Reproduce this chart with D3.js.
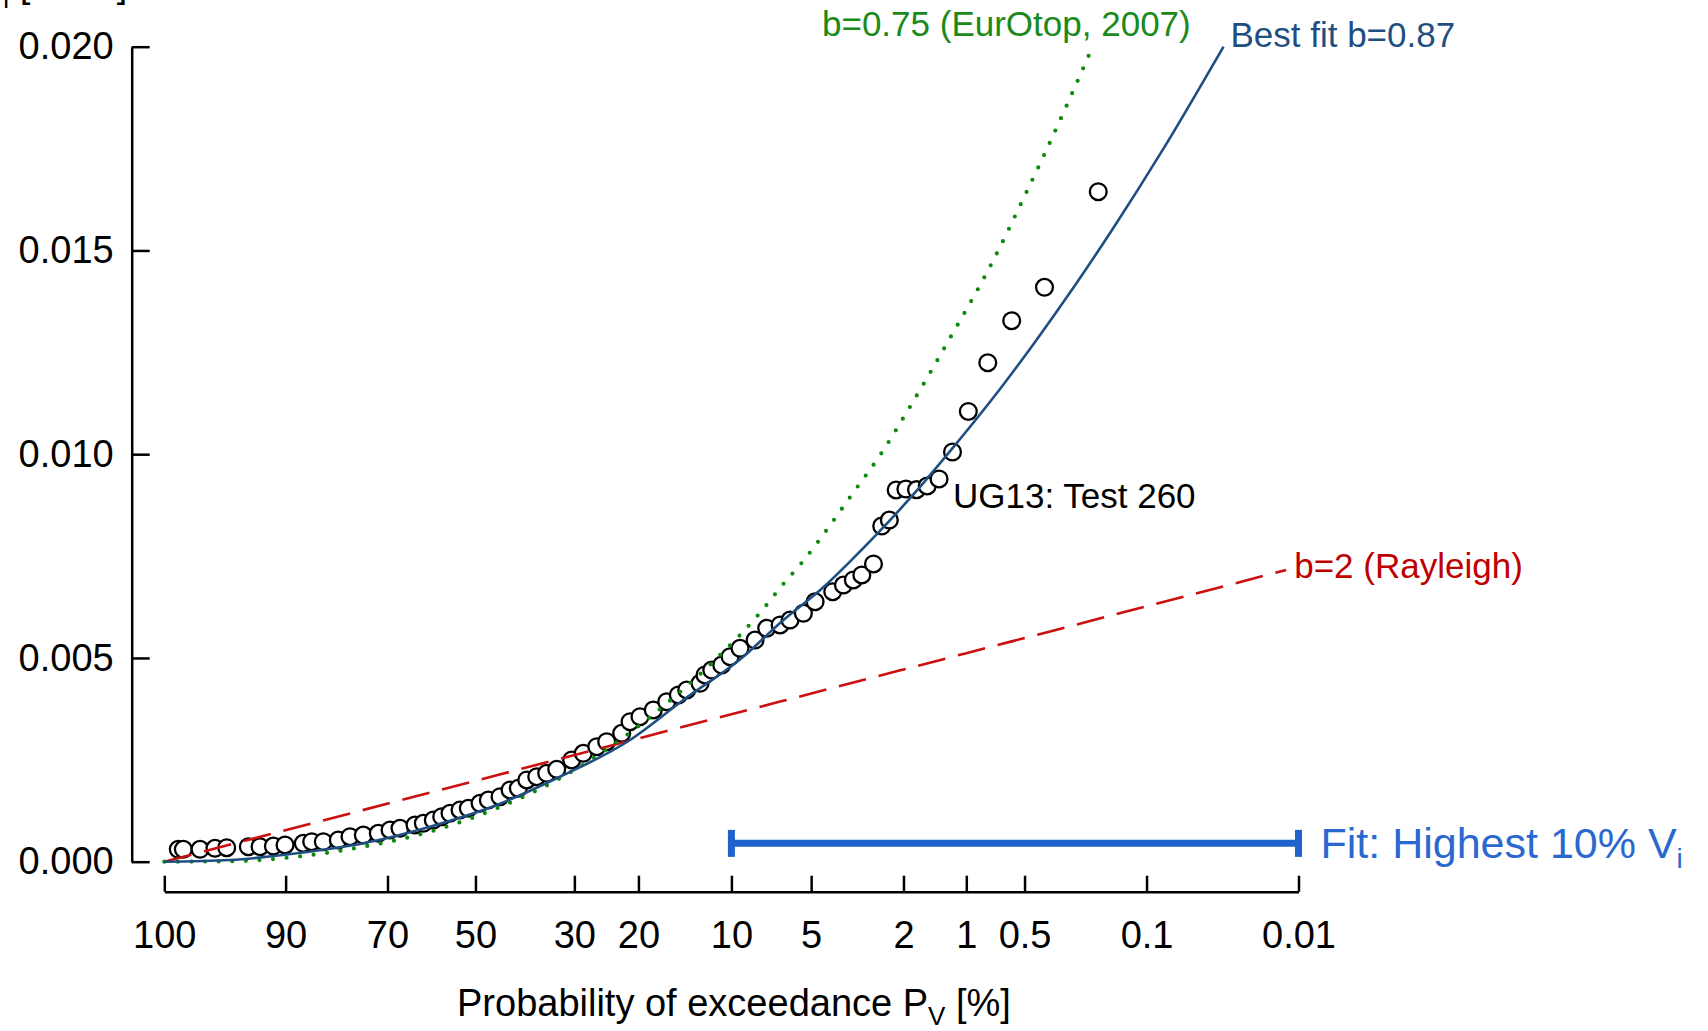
<!DOCTYPE html>
<html>
<head>
<meta charset="utf-8">
<script src="https://cdn.jsdelivr.net/npm/d3@7"></script>
<style>
  body { margin: 0; background: #fff; }
  svg { display: block; font-family: "Liberation Sans", Arial, sans-serif; }
</style>
</head>
<body>
<div id="chart"></div>
<script>
// probability axis ticks (exceedance, %)
var xTickP = [100, 90, 70, 50, 30, 20, 10, 5, 2, 1, 0.5, 0.1, 0.01];
var xTickLabels = ["100", "90", "70", "50", "30", "20", "10", "5", "2", "1", "0.5", "0.1", "0.01"];
var yTicks = [0, 0.005, 0.010, 0.015, 0.020];

// measured individual volumes: exceedance P [%] and V [m3/m]
var obsP = [99.86, 99.74, 99.09, 98.18, 97.25, 95.07, 93.65, 91.84, 90.09, 87.08,
            85.59, 83.44, 80.51, 78.12, 75.31, 72.04, 69.43, 67.18, 63.76, 61.85,
            59.57, 57.64, 55.74, 53.47, 51.59, 48.98, 47.16, 44.62, 42.49, 40.76,
            39.04, 37.04, 35.1, 33.2, 30.47, 28.45, 26.21, 24.63, 22.36, 21.16,
            19.79, 18.05, 16.41, 15.08, 14.17, 12.81, 12.33, 11.7, 10.81, 10.11,
            9.32, 8.22, 7.44, 6.62, 6.06, 5.37, 4.82, 4.08, 3.68, 3.34,
            3.07, 2.73, 2.51, 2.32, 2.16, 1.95, 1.74, 1.55, 1.36, 1.17,
            0.977, 0.779, 0.585, 0.39, 0.194];
var obsV = [0.000304, 0.000304, 0.000304, 0.000329, 0.000344, 0.000368, 0.000368, 0.000385, 0.00041, 0.000452,
            0.000491, 0.000491, 0.000533, 0.000614, 0.000655, 0.000697, 0.000778, 0.00082, 0.000901, 0.000942,
            0.001023, 0.001104, 0.001188, 0.001269, 0.00131, 0.001433, 0.001514, 0.001595, 0.00176, 0.001801,
            0.002005, 0.002086, 0.002169, 0.002268, 0.002496, 0.00266, 0.002822, 0.002945, 0.003151, 0.003436,
            0.003558, 0.003723, 0.003926, 0.004091, 0.004214, 0.004378, 0.004582, 0.004704, 0.004827, 0.005031,
            0.005237, 0.00544, 0.005728, 0.005809, 0.005931, 0.006096, 0.00638, 0.006626, 0.00679, 0.006913,
            0.007036, 0.007306, 0.008238, 0.008385, 0.009122, 0.009146, 0.00913, 0.00922, 0.009392, 0.010054,
            0.011048, 0.012245, 0.013276, 0.014096, 0.016442];

// best fit b=0.87
var fitP = [100, 96.96, 88.2, 75.31, 60.32, 45.33, 33.2, 21.16, 14.53, 9.07, 6.43,
            4.46, 3.42, 1.865, 1.137, 0.649, 0.448, 0.2695, 0.1583, 0.0806, 0.0325];
var fitV = [0, 0.000042, 0.000206, 0.000452, 0.000859, 0.001391, 0.002047, 0.002987, 0.003968, 0.005031, 0.005931,
            0.006735, 0.00739, 0.00892, 0.010224, 0.0117, 0.0127, 0.014085, 0.01555, 0.01743, 0.02];

// EurOtop (2007) b=0.75
var eurP = [100, 96.96, 88.2, 75.31, 60.32, 45.33, 32.59, 19.79, 11.25, 9.32, 7.76,
            6.53, 5.45, 3.28, 2.55, 1.865, 1.18, 0.743, 0.487, 0.392, 0.209];
var eurV = [0, 0.00001, 0.000123, 0.000368, 0.000736, 0.00131, 0.002047, 0.003355, 0.004991, 0.005563, 0.00616,
            0.006766, 0.007337, 0.009122, 0.00998, 0.011166, 0.012925, 0.014685, 0.016442, 0.017342, 0.02];

// Rayleigh b=2
var rayP = [100, 50, 1, 0.0122];
var rayV = [0, 0.001985, 0.005117, 0.007158];

// range used for the fit
var fitRangeP = [10, 0.01];
var fitRangeV = 0.00045;

var width = 1708, height = 1031;

var svg = d3.select("#chart")
  .append("svg")
    .attr("width", width)
    .attr("height", height);

// Weibull (Rayleigh) probability paper: sqrt(-ln P)
function weib(p) { return Math.sqrt(Math.abs(Math.log(p / 100))); }

var x = d3.scaleLinear()
  .domain([0, weib(0.01)])
  .range([164.3, 1298.5]);

var y = d3.scaleLinear()
  .domain([0, 0.02])
  .range([861.7, 46.7]);

// X axis, ticks pointing up
var xAxis = svg.append("g")
  .attr("transform", "translate(0,891.7)")
  .call(d3.axisBottom(x)
    .tickValues(xTickP.map(weib))
    .tickFormat(function(d, i) { return xTickLabels[i]; })
    .tickSize(-16)
    .tickSizeOuter(0)
    .tickPadding(29));

// Y axis, ticks pointing right
var yAxis = svg.append("g")
  .attr("transform", "translate(131.7,0)")
  .call(d3.axisLeft(y)
    .tickValues(yTicks)
    .tickFormat(d3.format(".3f"))
    .tickSize(-18)
    .tickSizeOuter(0)
    .tickPadding(18));

[xAxis, yAxis].forEach(function(g) {
  g.attr("font-family", null).attr("font-size", 38);
  g.selectAll("path, line").attr("stroke", "#000").attr("stroke-width", 2.5);
  g.selectAll("text").attr("fill", "#000");
});

// data points
var obs = obsP.map(function(p, i) { return {p: p, v: obsV[i]}; });
svg.append("g")
  .selectAll("circle")
  .data(obs)
  .enter().append("circle")
    .attr("cx", function(d) { return x(weib(d.p)); })
    .attr("cy", function(d) { return y(d.v); })
    .attr("r", 8.4)
    .attr("fill", "#fff")
    .attr("stroke", "#000")
    .attr("stroke-width", 2.3);

var line = d3.line()
  .x(function(d) { return x(weib(d.p)); })
  .y(function(d) { return y(d.v); })
  .curve(d3.curveMonotoneX);

function pairs(P, V) { return P.map(function(p, i) { return {p: p, v: V[i]}; }); }

// Rayleigh
svg.append("path")
  .datum(pairs(rayP, rayV))
  .attr("d", line)
  .attr("fill", "none")
  .attr("stroke", "#cc0f0f")
  .attr("stroke-width", 2.6)
  .attr("stroke-dasharray", "28 13");

// EurOtop
svg.append("path")
  .datum(pairs(eurP, eurV))
  .attr("d", line)
  .attr("fill", "none")
  .attr("stroke", "#0b8a0b")
  .attr("stroke-width", 4.2)
  .attr("stroke-linecap", "round")
  .attr("stroke-dasharray", "0 13.6");

// best fit
svg.append("path")
  .datum(pairs(fitP, fitV))
  .attr("d", line)
  .attr("fill", "none")
  .attr("stroke", "#1f4f82")
  .attr("stroke-width", 2.6);

// fit range bar
var barCol = "#1f62c9";
var bx0 = x(weib(fitRangeP[0])), bx1 = x(weib(fitRangeP[1])), by = y(fitRangeV);
svg.append("line")
  .attr("x1", bx0).attr("x2", bx1)
  .attr("y1", by).attr("y2", by)
  .attr("stroke", barCol)
  .attr("stroke-width", 7);
[bx0, bx1].forEach(function(bx) {
  svg.append("rect")
    .attr("x", bx - 3.5).attr("y", by - 13.5)
    .attr("width", 7).attr("height", 27)
    .attr("fill", barCol);
});

// labels
svg.append("text")
  .attr("x", 822).attr("y", 36)
  .attr("font-size", 35)
  .attr("fill", "#1a8a1a")
  .text("b=0.75 (EurOtop, 2007)");

svg.append("text")
  .attr("x", x(weib(fitP[fitP.length - 1])) + 7)
  .attr("y", 47)
  .attr("font-size", 35)
  .attr("fill", "#1f4f82")
  .text("Best fit b=0.87");

svg.append("text")
  .attr("x", 953).attr("y", 508)
  .attr("font-size", 35)
  .attr("fill", "#000")
  .text("UG13: Test 260");

svg.append("text")
  .attr("x", x(weib(rayP[rayP.length - 1])) + 8)
  .attr("y", y(rayV[rayV.length - 1]) + 8)
  .attr("font-size", 35)
  .attr("fill", "#c00000")
  .text("b=2 (Rayleigh)");

var fitLbl = svg.append("text")
  .attr("x", bx1 + 22).attr("y", by + 15)
  .attr("font-size", 43)
  .attr("fill", "#2a68cf");
fitLbl.append("tspan").text("Fit: Highest 10% V");
fitLbl.append("tspan").attr("font-size", 28).attr("dy", 10).text("i");

// axis title
var xt = svg.append("text")
  .attr("x", 457).attr("y", 1016)
  .attr("font-size", 38)
  .attr("fill", "#000");
xt.append("tspan").text("Probability of exceedance P");
xt.append("tspan").attr("font-size", 26).attr("dy", 9).text("V");
xt.append("tspan").attr("dy", -9).text(" [%]");

// y title, cut off at the top edge
var yt = svg.append("text")
  .attr("x", -22).attr("y", -3)
  .attr("font-size", 38)
  .attr("fill", "#000");
yt.append("tspan").text("V");
yt.append("tspan").attr("font-size", 26).attr("dy", 11).text("i");
yt.append("tspan").attr("dy", -11).text(" [m³/m]");
</script>
</body>
</html>
